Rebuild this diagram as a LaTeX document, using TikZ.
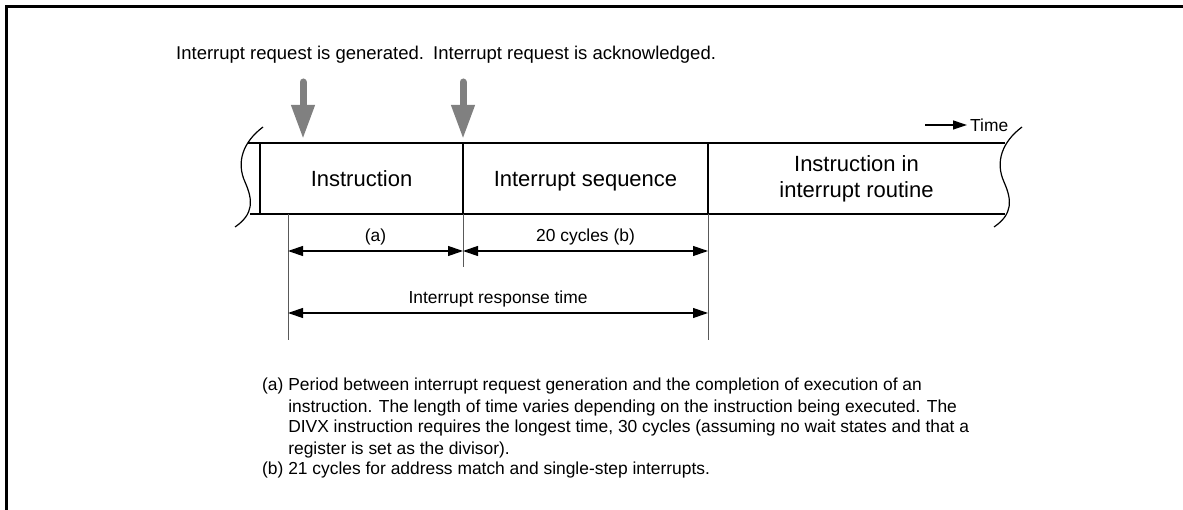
\documentclass[tikz,border=0pt]{standalone}
\usepackage{fontspec}
\setmainfont{Liberation Sans}
\usepackage{xcolor}
\usepackage{tikz}
\usetikzlibrary{arrows.meta, positioning}
\definecolor{reqgray}{RGB}{128,128,128}

\begin{document}
\begin{tikzpicture}[x=1pt, y=-1pt,
    small/.style={font=\fontsize{17.4}{21}\selectfont, inner sep=0pt},
    toplbl/.style={font=\fontsize{18.5}{22}\selectfont, inner sep=0pt},
    big/.style={font=\fontsize{22}{26}\selectfont},
    cell/.style={big, draw, line width=1.5pt, minimum height=71pt, inner sep=0pt, outer sep=0pt, text depth=0pt},
    dim/.style={line width=1.2pt, {Triangle[length=15pt,width=10pt]}-{Triangle[length=15pt,width=10pt]}},
    ext/.style={line width=1pt, black!65},
    req/.style={reqgray, line width=7pt, line cap=round, -{Triangle[length=34pt,width=22pt]}}]
    \useasboundingbox (0,0) rectangle (1183,510);
    \draw[line width=3pt] (1183,6.5) -- (6.5,6.5) -- (6.5,510);

    \node[cell, minimum width=203pt] (instr) at (361.5,178.5) {Instruction};
    \node[cell, minimum width=245pt, right=0pt of instr] (seq) {Interrupt sequence};
    \node[big, minimum width=297pt, minimum height=71pt, inner sep=0pt, outer sep=0pt, align=center, right=0pt of seq] (rout) {Instruction in\\interrupt routine};
    \draw[line width=1.5pt] (rout.north west) -- (rout.north east);
    \draw[line width=1.5pt] (rout.south west) -- (rout.south east);
    \draw[line width=1.5pt] (instr.north west) -- ++(-12,0);
    \draw[line width=1.5pt] (instr.south west) -- ++(-10,0);
    \foreach \dx in {0,759}
        \draw[line width=1.2pt, xshift=\dx] (263,127) .. controls (243,142) and (236,162) .. (245,182) .. controls (253,200) and (254,214) .. (235,227);

    \node[toplbl, anchor=base west] (genlbl) at (176,60) {Interrupt request is generated.};
    \node[toplbl, anchor=base west] (acklbl) at (433,60) {Interrupt request is acknowledged.};
    \coordinate (gen) at (303,82);
    \coordinate (ack) at (instr.north east |- gen);
    \draw[req, shorten >=4pt] (gen) -- (gen |- instr.north);
    \draw[req, shorten >=4pt] (ack) -- (instr.north east);

    \node[small, anchor=west] (time) at (970,125) {Time};
    \coordinate (tstart) at (925,125);
    \draw[line width=1.2pt, shorten >=3pt, -{Triangle[length=14pt,width=9pt]}] (tstart) -- (time.west);

    \coordinate (t0) at (288,214);
    \draw[ext] (t0) -- ++(0,126);
    \draw[ext] (instr.south east) -- ++(0,53);
    \draw[ext] (seq.south east) -- ++(0,126);

    \coordinate (a0) at (288,251);
    \coordinate (a1) at (instr.south east |- a0);
    \coordinate (a2) at (seq.south east |- a0);
    \draw[dim] (a0) -- (a1) node[small, midway, above=5pt] (lbla) {(a)};
    \draw[dim] (a1) -- (a2) node[small, midway, above=5pt] (lblb) {20 cycles (b)};
    \coordinate (r0) at (288,313);
    \coordinate (r2) at (seq.south east |- r0);
    \draw[dim] (r0) -- (r2) node[small, midway, above=5pt] (lblr) {Interrupt response time};

    \node[small, anchor=base west] (notes) at (262,391) {\begin{tabular}[t]{@{}l@{ }l@{}}
        (a) & Period between interrupt request generation and the completion of execution of an\\
            & instruction. The length of time varies depending on the instruction being executed. The\\
            & DIVX instruction requires the longest time, 30 cycles (assuming no wait states and that a\\
            & register is set as the divisor).\\
        (b) & 21 cycles for address match and single-step interrupts.
    \end{tabular}};
\end{tikzpicture}
\end{document}
